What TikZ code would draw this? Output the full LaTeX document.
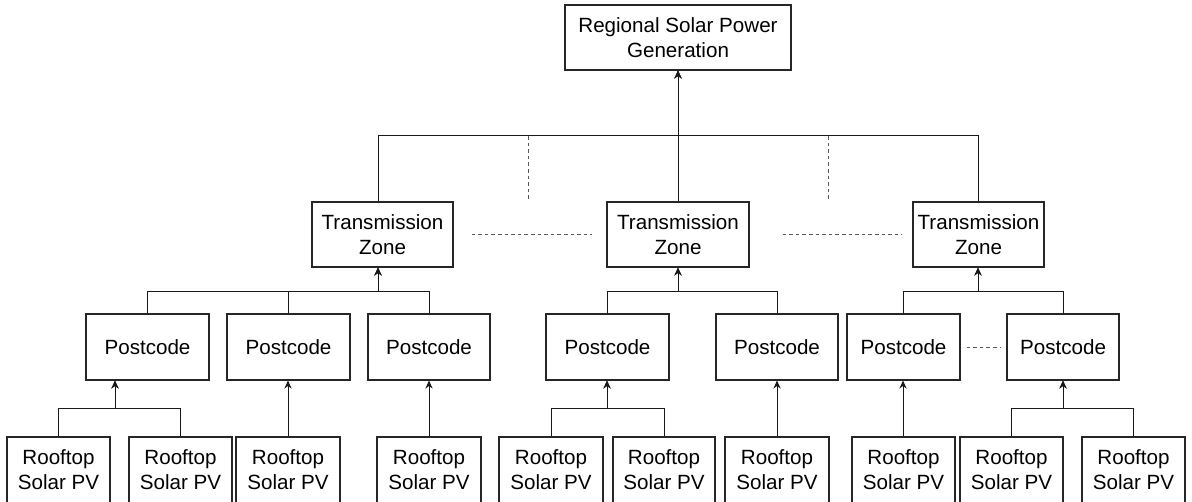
\documentclass[tikz,border=0pt]{standalone}
\usepackage{fontspec}
\setmainfont{Liberation Sans}
\usetikzlibrary{arrows.meta}

\tikzset{
  box/.style={draw=black!85, line width=0.55pt, fill=white, inner sep=0pt,
    align=center, font=\fontsize{10.3}{12.5}\selectfont, minimum height=32.5pt},
  rbox/.style={box, minimum height=33pt},
  link/.style={draw=black!90, line width=0.5pt},
  flow/.style={link, -{Stealth[length=4pt, width=3.6pt, inset=1.3pt]}},
  hint/.style={draw=black!65, line width=0.5pt, dash pattern=on 1.8pt off 1.5pt},
}

\begin{document}
\begin{tikzpicture}[x=0.5pt, y=-0.5pt]
\useasboundingbox (0,0) rectangle (1192,502);

% top level
\node[box, minimum width=113pt] (top) at (678,37.5) {Regional Solar Power\\Generation};

% transmission zones
\node[box, minimum width=70.5pt] (tz1) at (382.5,234.5) {Transmission\\Zone};
\node[box, minimum width=71pt]   (tz2) at (678,234.5)   {Transmission\\Zone};
\node[box, minimum width=65.5pt] (tz3) at (978.5,234.5) {Transmission\\Zone};

% postcodes
\node[box, minimum width=61.5pt, minimum height=33pt] (p1) at (147.5,347) {Postcode};
\node[box, minimum width=61.5pt, minimum height=33pt] (p2) at (288.5,347) {Postcode};
\node[box, minimum width=61pt,   minimum height=33pt] (p3) at (429,347)   {Postcode};
\node[box, minimum width=61.5pt, minimum height=33pt] (p4) at (607.5,347) {Postcode};
\node[box, minimum width=61pt,   minimum height=33pt] (p5) at (777,347)   {Postcode};
\node[box, minimum width=56.5pt, minimum height=33pt] (p6) at (903.5,347) {Postcode};
\node[box, minimum width=56pt,   minimum height=33pt] (p7) at (1063,347)  {Postcode};

% rooftop systems
\node[rbox, minimum width=51.5pt] (r1)  at (58.5,470)   {Rooftop\\Solar PV};
\node[rbox, minimum width=51.5pt] (r2)  at (180.5,470)  {Rooftop\\Solar PV};
\node[rbox, minimum width=52pt]   (r3)  at (288,470)    {Rooftop\\Solar PV};
\node[rbox, minimum width=52pt]   (r4)  at (429,470)    {Rooftop\\Solar PV};
\node[rbox, minimum width=52pt]   (r5)  at (551,470)    {Rooftop\\Solar PV};
\node[rbox, minimum width=51pt]   (r6)  at (664,470)    {Rooftop\\Solar PV};
\node[rbox, minimum width=52pt]   (r7)  at (777,470)    {Rooftop\\Solar PV};
\node[rbox, minimum width=51.5pt] (r8)  at (903.5,470)  {Rooftop\\Solar PV};
\node[rbox, minimum width=51.5pt] (r9)  at (1011.5,470) {Rooftop\\Solar PV};
\node[rbox, minimum width=51.5pt] (r10) at (1133.5,470) {Rooftop\\Solar PV};

% junction points of the buses
\coordinate (j0) at (678,136);
\coordinate (j1) at (378,291);
\coordinate (j2) at (678,291);
\coordinate (j3) at (978,291);
\coordinate (k1) at (115,408);
\coordinate (k4) at (607,408);
\coordinate (k7) at (1063,408);

% zones to region
\draw[flow] ([xshift=-2.25pt]tz1.north) |- (j0) -- (top.south);
\draw[flow] (tz2.north) -- (top.south);
\draw[flow] ([xshift=-0.25pt]tz3.north) |- (j0) -- (top.south);

% postcodes to zones
\draw[flow] (p1.north) |- (j1) -- (j1 |- tz1.south);
\draw[flow] (p2.north) |- (j1) -- (j1 |- tz1.south);
\draw[flow] (p3.north) |- (j1) -- (j1 |- tz1.south);
\draw[flow] (p4.north) |- (j2) -- (tz2.south);
\draw[flow] (p5.north) |- (j2) -- (tz2.south);
\draw[flow] (p6.north) |- (j3) -- (j3 |- tz3.south);
\draw[flow] (p7.north) |- (j3) -- (j3 |- tz3.south);

% rooftops to postcodes
\draw[flow] (r1.north) |- (k1) -- (k1 |- p1.south);
\draw[flow] (r2.north) |- (k1) -- (k1 |- p1.south);
\draw[flow] (r3.north) -- (r3.north |- p2.south);
\draw[flow] (r4.north) -- (p3.south);
\draw[flow] (r5.north) |- (k4) -- (k4 |- p4.south);
\draw[flow] (r6.north) |- (k4) -- (k4 |- p4.south);
\draw[flow] (r7.north) -- (p5.south);
\draw[flow] ([xshift=-0.25pt]r8.north) -- ([xshift=-0.25pt]r8.north |- p6.south);
\draw[flow] (r9.north) |- (k7) -- (p7.south);
\draw[flow] (r10.north) |- (k7) -- (p7.south);

% further zones and postcodes not shown
\coordinate (d1) at (528,136);
\coordinate (d2) at (828,136);
\draw[hint] (d1) -- (528,201);
\draw[hint] (d2) -- (828,201);
\draw[hint] ([xshift=9pt]tz1.east) -- ([xshift=-7pt]tz2.west);
\draw[hint] ([xshift=16.5pt]tz2.east) -- ([xshift=-5pt]tz3.west);
\draw[hint] ([xshift=3pt]p6.east) -- ([xshift=-2.5pt]p7.west);
\end{tikzpicture}
\end{document}
